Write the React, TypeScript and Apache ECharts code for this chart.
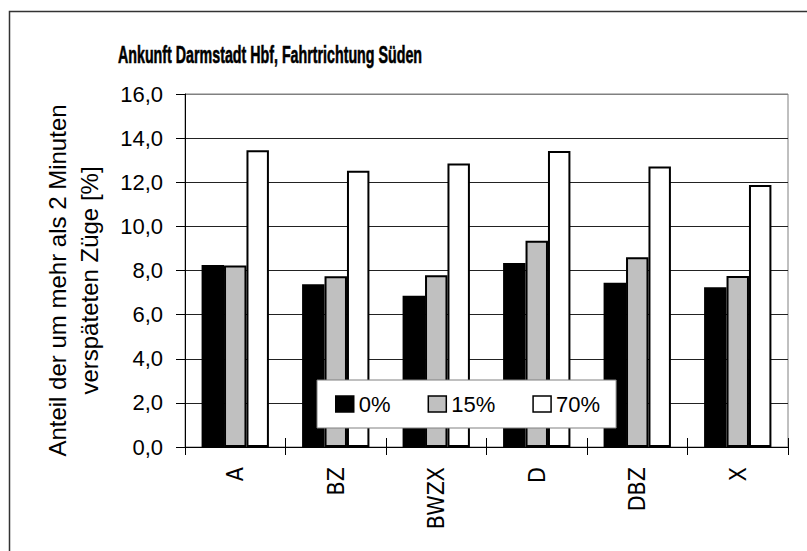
import React, { useEffect, useRef } from "react";
import * as echarts from "echarts";

const categories = ["A", "BZ", "BWZX", "D", "DBZ", "X"];
const seriesNames = ["0%", "15%", "70%"];
const values0 = [8.25, 7.38, 6.86, 8.34, 7.45, 7.24];
const values15 = [8.23, 7.74, 7.78, 9.35, 8.6, 7.75];
const values70 = [13.45, 12.52, 12.85, 13.42, 12.71, 11.88];
const barColors = ["#000000", "#c0c0c0", "#ffffff"];
const titleText = "Ankunft Darmstadt Hbf, Fahrtrichtung Süden";
const yAxisTitle = "Anteil der um mehr als 2 Minuten\nverspäteten Züge [%]";

const FONT = "'Liberation Sans', Arial, sans-serif";
const NARROW = "'DejaVu Sans Condensed', 'Liberation Sans', sans-serif";

export default function App() {
  const ref = useRef<HTMLDivElement>(null);
  useEffect(() => {
    if (!ref.current) return;
    const chart = echarts.init(ref.current, undefined, { renderer: "svg" });
    const allValues = [values0, values15, values70];
    const splitColors = ["#222", "#222", "#222", "#222", "#222", "#222", "#222", "#222", "#808080"];
    chart.setOption({
      animation: false,
      backgroundColor: "#ffffff",
      graphic: [
        {
          type: "rect",
          z: -10,
          shape: { x: 9.5, y: 11.5, width: 830, height: 570 },
          style: { fill: "none", stroke: "#333", lineWidth: 1.5 },
        },
        {
          type: "text",
          x: 270,
          y: 55,
          scaleX: 0.62,
          style: {
            text: titleText,
            fontFamily: FONT,
            fontWeight: "bold",
            fontSize: 23,
            fill: "#000",
            stroke: "#000",
            lineWidth: 0.6,
            textAlign: "center",
            textVerticalAlign: "middle",
          },
        },
      ],
      grid: { left: 185, top: 94, right: 19, bottom: 104, show: true, borderColor: "#808080", borderWidth: 1, containLabel: false },
      legend: {
        left: 317,
        top: 380,
        orient: "horizontal",
        backgroundColor: "#ffffff",
        borderColor: "#808080",
        borderWidth: 1,
        borderRadius: 0,
        padding: [13, 16, 13, 18],
        itemGap: 37,
        itemWidth: 18,
        itemHeight: 16,
        icon: "rect",
        textStyle: { fontFamily: FONT, fontSize: 22, color: "#000" },
        data: seriesNames.map((n, i) => ({
          name: n,
          itemStyle: { color: barColors[i], borderColor: "#000", borderWidth: 1.5 },
        })),
      },
      xAxis: [
        {
          type: "category",
          data: categories,
          boundaryGap: true,
          axisLine: { show: true, lineStyle: { color: "#000", width: 1 } },
          axisTick: { show: true, inside: false, length: 8, lineStyle: { color: "#000" } },
          axisLabel: { rotate: 90, margin: 20, fontFamily: NARROW, fontSize: 23, color: "#000" },
          splitLine: { show: false },
        },
        {
          type: "category",
          data: categories,
          position: "bottom",
          boundaryGap: true,
          axisLine: { show: false },
          axisTick: { show: true, inside: true, length: 9, lineStyle: { color: "#000" } },
          axisLabel: { show: false },
          splitLine: { show: false },
        },
      ],
      yAxis: {
        type: "value",
        min: 0,
        max: 16,
        interval: 2,
        name: yAxisTitle,
        nameLocation: "middle",
        nameGap: 80,
        nameRotate: 90,
        nameTextStyle: { fontFamily: FONT, fontSize: 24, color: "#000", lineHeight: 32, padding: [0, 20, 0, 0] },
        axisLine: { show: true, lineStyle: { color: "#000", width: 1 } },
        axisTick: { show: true, inside: false, length: 9, lineStyle: { color: "#000" } },
        axisLabel: {
          margin: 22,
          fontFamily: FONT,
          fontSize: 22,
          color: "#000",
          formatter: (v: number) => v.toFixed(1).replace(".", ","),
        },
        splitLine: { show: true, lineStyle: { color: splitColors, width: 1 } },
      },
      series: seriesNames.map((n, i) => ({
        name: n,
        type: "bar",
        data: allValues[i],
        barGap: "0%",
        barCategoryGap: "33%",
        itemStyle: { color: barColors[i], borderColor: "#000", borderWidth: 2 },
      })),
    });
    return () => chart.dispose();
  }, []);
  return (
    <div
      ref={ref}
      style={{ position: "fixed", left: 0, top: 0, width: 807, height: 551, background: "#fff" }}
    />
  );
}
